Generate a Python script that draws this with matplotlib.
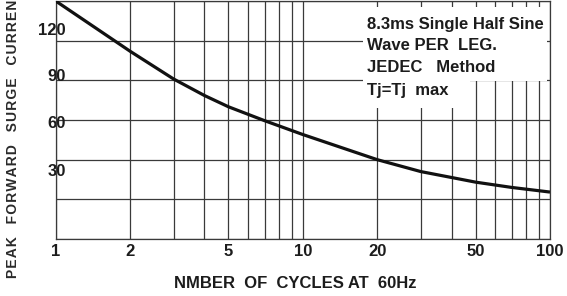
import matplotlib
matplotlib.use("Agg")
import matplotlib.pyplot as plt
from matplotlib.patches import Rectangle
from matplotlib.ticker import NullFormatter, FixedLocator

# ---- data ----
cycles = [1, 2, 3, 4, 5, 7, 10, 20, 30, 40, 50, 70, 100]
surge_current = [180, 142, 121, 108.5, 100, 89.5, 79, 60, 51, 46.5, 43, 39, 35.5]

x_tick_vals = [1, 2, 5, 10, 20, 50, 100]
x_tick_labels = ["1", "2", "5", "10", "20", "50", "100"]
x_grid_vals = [1, 2, 3, 4, 5, 6, 7, 8, 9, 10, 20, 30, 40, 50, 60, 70, 80, 90, 100]
y_grid_vals = [0, 30, 60, 90, 120, 150, 180]
y_label_pos = [158.8, 124, 88.5, 52]
y_label_text = ["120", "90", "60", "30"]

note_lines = ["8.3ms Single Half Sine", "Wave PER  LEG.", "JEDEC   Method", "Tj=Tj  max"]
x_title = "NMBER  OF  CYCLES AT  60Hz"
y_title = "PEAK  FORWARD  SURGE  CURRENT"

W, H = 567, 296
fig = plt.figure(figsize=(W / 100, H / 100), dpi=100)
L, R, B, T = 55.7, 550.0, 239.0, 1.0
ax = fig.add_axes([L / W, 1 - B / H, (R - L) / W, (B - T) / H])

fam = ["Liberation Sans", "DejaVu Sans"]
tc = "#1c1c1c"
gc = "#3a3a3a"

ax.set_xscale("log")
ax.set_xlim(1, 100)
ax.set_ylim(0, 180)

# grid lines
for xv in x_grid_vals:
    ax.axvline(xv, color=gc, lw=0.9, zorder=1)
for yv in y_grid_vals:
    ax.axhline(yv, color=gc, lw=0.9, zorder=1)

ax.plot(cycles, surge_current, color="#111111", lw=2.3, zorder=4,
        solid_capstyle="butt", solid_joinstyle="round")

for s in ax.spines.values():
    s.set_color(gc)
    s.set_linewidth(0.9)

ax.xaxis.set_major_locator(FixedLocator(x_tick_vals))
ax.xaxis.set_minor_locator(FixedLocator([]))
ax.xaxis.set_minor_formatter(NullFormatter())
ax.set_xticklabels(x_tick_labels)
ax.set_yticks(y_label_pos)
ax.set_yticklabels(y_label_text)
ax.tick_params(axis="x", length=0, pad=3.6)
ax.tick_params(axis="y", length=0, pad=-7.4)
for lab in ax.get_xticklabels() + ax.get_yticklabels():
    lab.set_fontfamily(fam)
    lab.set_fontweight("bold")
    lab.set_fontsize(12)
    lab.set_color(tc)
for lab in ax.get_yticklabels():
    lab.set_zorder(5)

# note box
def ax_x(px):
    return (px - L) / (R - L)

def ax_y(py):
    return (B - py) / (B - T)

ax.add_patch(Rectangle((ax_x(363), ax_y(81)), ax_x(547) - ax_x(363), ax_y(7) - ax_y(81),
                       transform=ax.transAxes, facecolor="white", edgecolor="none", zorder=2))
ax.add_patch(Rectangle((ax_x(363), ax_y(108)), ax_x(470) - ax_x(363), ax_y(81) - ax_y(108),
                       transform=ax.transAxes, facecolor="white", edgecolor="none", zorder=2))
for line, py in zip(note_lines, [24, 45, 68, 90]):
    ax.text(ax_x(367), ax_y(py), line, transform=ax.transAxes, ha="left", va="center",
            fontsize=12, fontweight="bold", family=fam, color=tc, zorder=6)

fig.text(295 / W, 1 - 283 / H, x_title, ha="center", va="center", fontsize=12,
         fontweight="bold", family=fam, color=tc)

spaced = "\u200a".join(y_title).replace("\u200a \u200a", "  ")
fig.text(13 / W, 1 - 278 / H, spaced, rotation=90, ha="center", va="bottom", fontsize=10,
         fontweight="bold", family=fam, color="#2a2a2a")

fig.savefig("out.png", dpi=100)
